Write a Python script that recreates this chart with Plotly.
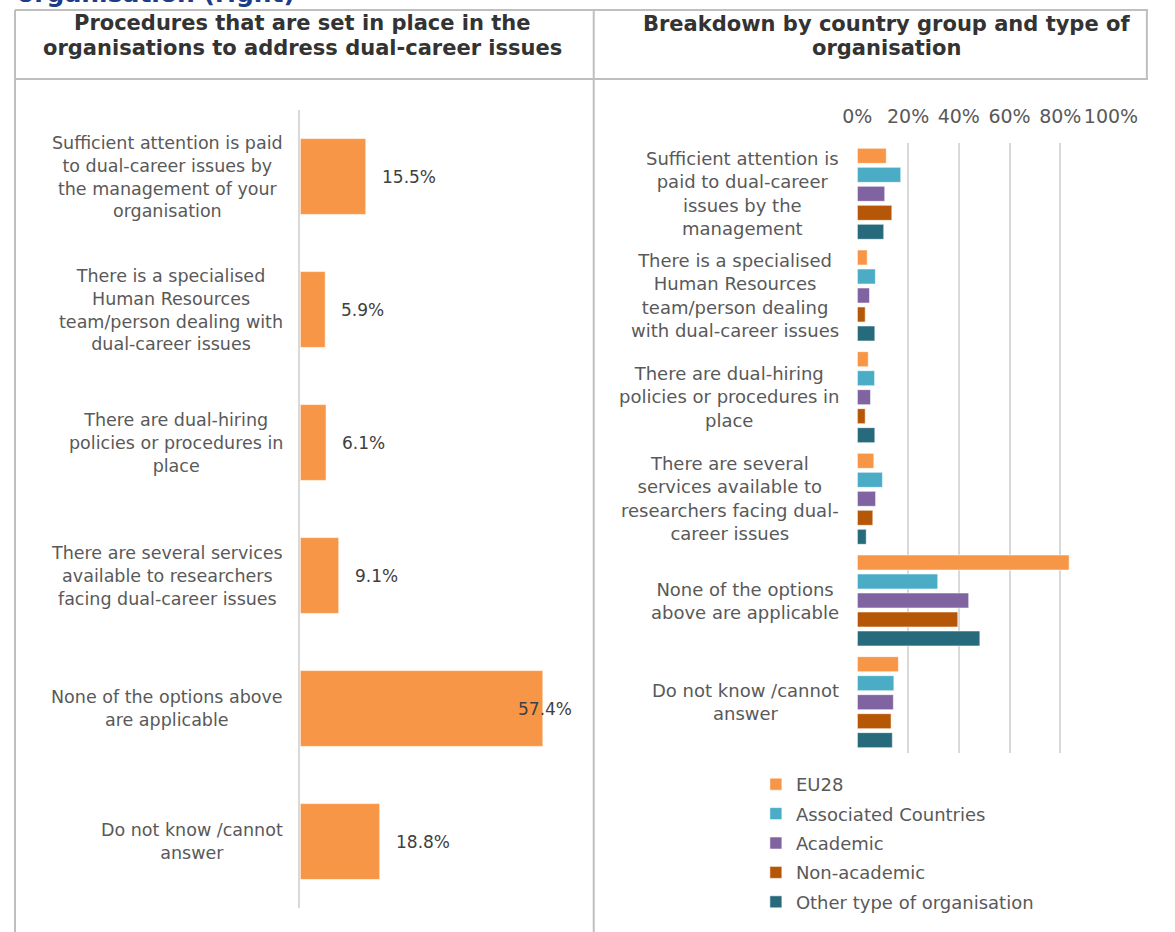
import plotly.graph_objects as go

W, H = 1175, 932

# Left panel: share of organisations per procedure (%)
left_labels = [
    "Sufficient attention is paid<br>to dual-career issues by<br>the management of your<br>organisation",
    "There is a specialised<br>Human Resources<br>team/person dealing with<br>dual-career issues",
    "There are dual-hiring<br>policies or procedures in<br>place",
    "There are several services<br>available to researchers<br>facing dual-career issues",
    "None of the options above<br>are applicable",
    "Do not know /cannot<br>answer",
]
left_values = [15.5, 5.9, 6.1, 9.1, 57.4, 18.8]

# Right panel: breakdown by country group and type of organisation (%)
right_labels = [
    "Sufficient attention is<br>paid to dual-career<br>issues by the<br>management",
    "There is a specialised<br>Human Resources<br>team/person dealing<br>with dual-career issues",
    "There are dual-hiring<br>policies or procedures in<br>place",
    "There are several<br>services available to<br>researchers facing dual-<br>career issues",
    "None of the options<br>above are applicable",
    "Do not know /cannot<br>answer",
]
series_names = ["EU28", "Associated Countries", "Academic", "Non-academic",
                "Other type of organisation"]
eu28 = [11.4, 3.9, 4.3, 6.5, 83.5, 16.2]
associated = [17.1, 7.1, 6.8, 9.9, 31.7, 14.4]
academic = [10.8, 4.8, 5.2, 7.2, 43.9, 14.2]
non_academic = [13.6, 3.1, 3.1, 6.1, 39.6, 13.3]
other_org = [10.4, 6.9, 6.9, 3.5, 48.3, 13.8]
series_values = [eu28, associated, academic, non_academic, other_org]
series_colors = ["#F79646", "#4BACC6", "#8064A2", "#B65708", "#276A7C"]

x_ticks = [0, 20, 40, 60, 80, 100]
x_tick_text = ["0%", "20%", "40%", "60%", "80%", "100%"]

left_header = ["Procedures that are set in place in the",
               "organisations to address dual-career issues"]
right_header = ["Breakdown by country group and type of", "organisation"]

FONT = "DejaVu Sans, Verdana, sans-serif"

# page-pixel helpers (horizontal origin and usable width of the drawing)
X0, PW = 12.2, 1139.0


def fx(px):
    return (px - X0) / PW


def fy(py):
    return 1 - py / H


fig = go.Figure()

# Left chart
fig.add_trace(go.Bar(
    x=left_values, y=left_labels, orientation="h",
    marker=dict(color="#F79646", line=dict(color="rgba(255,255,255,0.6)", width=1)),
    width=0.57, showlegend=False, hoverinfo="x+y",
    xaxis="x", yaxis="y",
))

# Right chart
for name, vals, col in zip(series_names, series_values, series_colors):
    fig.add_trace(go.Bar(
        x=vals, y=right_labels, orientation="h", name=name,
        marker=dict(color=col, line=dict(color="rgba(255,255,255,0.55)", width=1)),
        legendgroup=name, xaxis="x2", yaxis="y2",
    ))

left_xmax = 68.5
annotations = []

# Data labels on the left bars
for lab, v in zip(left_labels, left_values):
    if v > 50:
        annotations.append(dict(x=v, y=lab, xref="x", yref="y", text=f"{v:.1f}%",
                                showarrow=False, xanchor="center", xshift=2,
                                font=dict(family=FONT, size=17, color="#404040")))
    else:
        annotations.append(dict(x=v, y=lab, xref="x", yref="y", text=f"{v:.1f}%",
                                showarrow=False, xanchor="left", xshift=14,
                                font=dict(family=FONT, size=17, color="#404040")))

# Category labels (centred block, right-aligned against the axis)
for lab in left_labels:
    annotations.append(dict(x=fx(284), y=lab, xref="paper", yref="y", text=lab,
                            showarrow=False, xanchor="right", align="center",
                            font=dict(family=FONT, size=17.5, color="#595959")))
for lab in right_labels:
    annotations.append(dict(x=fx(843), y=lab, xref="paper", yref="y2", text=lab,
                            showarrow=False, xanchor="right", align="center",
                            font=dict(family=FONT, size=18, color="#595959")))

# Panel headers, one annotation per line
header_font = dict(family=FONT, size=21, color="#333333", weight="bold")
for i, line in enumerate(left_header):
    annotations.append(dict(x=fx(301), y=fy(23 + 25 * i), xref="paper", yref="paper",
                            text=line, showarrow=False, xanchor="center",
                            yanchor="middle", font=header_font))
for i, line in enumerate(right_header):
    annotations.append(dict(x=fx(888), y=fy(24 + 24 * i), xref="paper", yref="paper",
                            text=line, showarrow=False, xanchor="center",
                            yanchor="middle", font=header_font))

# Figure caption running off the top edge
annotations.append(dict(x=fx(12), y=fy(-6), xref="paper", yref="paper",
                        text="organisation (right)", showarrow=False,
                        xanchor="left", yanchor="middle",
                        font=dict(family=FONT, size=25, color="#1F3B87", weight="bold")))

# Table borders
border = dict(color="#BFBFBF", width=2)
shapes = [
    dict(type="line", xref="paper", yref="paper", x0=0.0, x1=1, y0=fy(10), y1=fy(10), line=border),
    dict(type="line", xref="paper", yref="paper", x0=0.0, x1=1, y0=fy(79), y1=fy(79), line=border),
    dict(type="line", xref="paper", yref="paper", x0=0.0, x1=0.0, y0=fy(10), y1=0, line=border),
    dict(type="line", xref="paper", yref="paper", x0=fx(594), x1=fx(594), y0=fy(10), y1=0, line=border),
    dict(type="line", xref="paper", yref="paper", x0=0.999, x1=0.999, y0=fy(10), y1=fy(79), line=border),
]

fig.update_layout(
    width=W, height=H,
    margin=dict(l=0, r=0, t=0, b=0),
    paper_bgcolor="white", plot_bgcolor="white",
    barmode="group", bargap=0.066, bargroupgap=0.21,
    font=dict(family=FONT, color="#595959"),
    xaxis=dict(domain=[fx(299), fx(590)], range=[0, left_xmax], visible=False, fixedrange=True),
    yaxis=dict(domain=[fy(908), fy(110)], type="category", range=[5.5, -0.5],
               showticklabels=False, showgrid=False, zeroline=False,
               showline=True, linecolor="#D9D9D9", linewidth=2, ticks=""),
    xaxis2=dict(domain=[fx(859), fx(1114)], range=[0, 100], anchor="y2", side="top",
                tickvals=x_ticks, ticktext=x_tick_text, showgrid=True,
                gridcolor="#D9D9D9", gridwidth=2, zeroline=False, showline=False,
                ticks="", ticklabelstandoff=15,
                tickfont=dict(family=FONT, size=19, color="#595959")),
    yaxis2=dict(domain=[fy(753), fy(143)], type="category", range=[5.5, -0.5],
                anchor="x2", showticklabels=False, showgrid=False, zeroline=False,
                showline=False, ticks=""),
    legend=dict(x=fx(757), y=fy(766), xanchor="left", yanchor="top",
                traceorder="grouped", tracegroupgap=3, bgcolor="rgba(0,0,0,0)",
                font=dict(family=FONT, size=18, color="#595959")),
    annotations=annotations,
    shapes=shapes,
)

fig.write_html("out.html")
